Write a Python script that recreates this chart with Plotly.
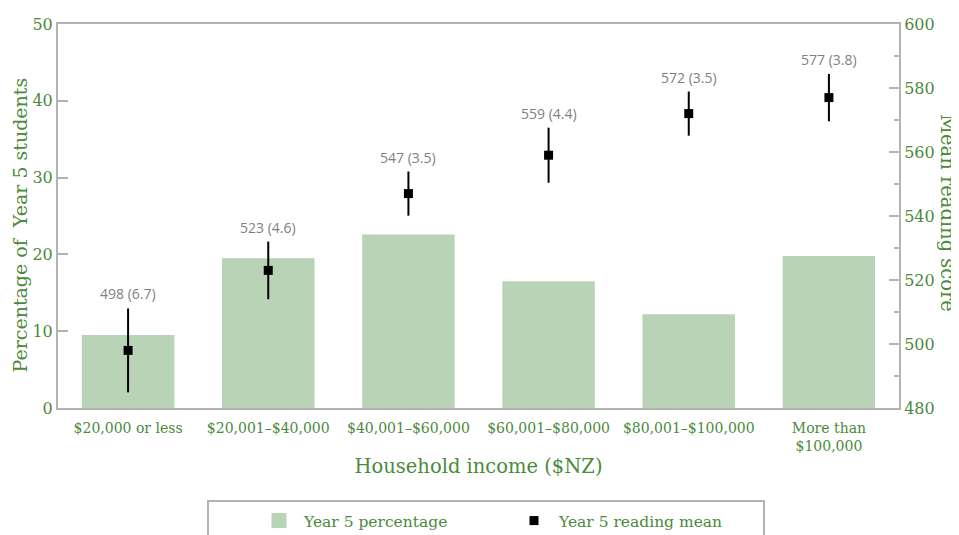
import plotly.graph_objects as go

# data
income_bands = ["$20,000 or less", "$20,001–$40,000", "$40,001–$60,000",
                "$60,001–$80,000", "$80,001–$100,000", "More than<br>$100,000"]
pct_students = [9.5, 19.5, 22.6, 16.5, 12.2, 19.8]
mean_score = [498, 523, 547, 559, 572, 577]
std_error = [6.7, 4.6, 3.5, 4.4, 3.5, 3.8]

ci = [round(1.96 * se, 1) for se in std_error]

GREEN = "#4b8a3c"
BAR = "#b9d3b6"
GREY = "#b3b3b3"
SERIF = "DejaVu Serif"

# the page body adds an 8px offset; plot area on screen is x 58..899, y 24..408
PW, PH = 841, 384


def px(vx):
    return (vx - 58) / PW


def py(vy):
    return (408 - vy) / PH


fig = go.Figure()

fig.add_trace(go.Bar(
    x=income_bands, y=pct_students, name="Year 5 percentage", showlegend=False,
    marker=dict(color=BAR, line=dict(width=0)), width=0.66,
))

# legend entry for the bars (bigger square than plotly's bar swatch)
fig.add_trace(go.Scatter(
    x=[None], y=[None], name="Year 5 percentage", mode="markers",
    marker=dict(symbol="square", color=BAR, size=15),
))

fig.add_trace(go.Scatter(
    x=income_bands, y=mean_score, name="Year 5 reading mean", yaxis="y2",
    mode="markers",
    marker=dict(symbol="square", color="black", size=9),
    error_y=dict(type="data", array=ci, color="black", thickness=2, width=0),
))

# labels above the error bars
for band, m, se, c in zip(income_bands, mean_score, std_error, ci):
    fig.add_annotation(
        x=band, y=m + c, yref="y2", text=f"{m} ({se})", showarrow=False,
        yanchor="bottom", yshift=3,
        font=dict(family="Open Sans", size=14, color="#7f7f7f"),
    )

# axis titles
fig.add_annotation(
    x=px(20), y=py(225.5), xref="paper", yref="paper",
    xanchor="center", yanchor="middle",
    text="Percentage of  Year 5 students", textangle=-90, showarrow=False,
    font=dict(family=SERIF, size=19, color=GREEN),
)
fig.add_annotation(
    x=px(948), y=py(213), xref="paper", yref="paper",
    xanchor="center", yanchor="middle",
    text="Mean reading score", textangle=90, showarrow=False,
    font=dict(family=SERIF, size=19.5, color=GREEN),
)

# legend frame
fig.add_shape(type="rect", xref="paper", yref="paper",
              x0=px(208), x1=px(764), y0=py(570), y1=py(501),
              line=dict(color=GREY, width=2), fillcolor="rgba(0,0,0,0)")

fig.update_layout(
    width=959, height=535,
    margin=dict(l=50, r=68, t=16, b=135, autoexpand=False),
    plot_bgcolor="white", paper_bgcolor="white",
    font=dict(family=SERIF, color=GREEN),
    showlegend=True,
    legend=dict(
        orientation="h", x=px(254), xanchor="left",
        y=py(504), yanchor="top",
        itemwidth=40, entrywidth=200, entrywidthmode="pixels",
        font=dict(family=SERIF, size=15.5, color=GREEN),
        bgcolor="rgba(0,0,0,0)", borderwidth=0,
    ),
    xaxis=dict(
        title=dict(text="Household income ($NZ)", font=dict(size=19.5, color=GREEN), standoff=6),
        tickfont=dict(size=14, color=GREEN), ticklabelstandoff=6,
        showline=True, linecolor=GREY, linewidth=2, mirror=True,
        ticks="", showgrid=False, automargin=False,
    ),
    yaxis=dict(
        range=[0, 50], dtick=10,
        tickfont=dict(size=16, color=GREEN),
        showline=True, linecolor=GREY, linewidth=2,
        ticks="inside", ticklen=10, tickwidth=2, tickcolor=GREY,
        showgrid=False, zeroline=False, automargin=False,
    ),
    yaxis2=dict(
        overlaying="y", side="right",
        range=[480, 600], dtick=20,
        tickfont=dict(size=16, color=GREEN),
        showline=True, linecolor=GREY, linewidth=2,
        ticks="inside", ticklen=10, tickwidth=2, tickcolor=GREY,
        minor=dict(dtick=10, ticks="inside", ticklen=5, tickwidth=2, tickcolor=GREY),
        showgrid=False, zeroline=False, automargin=False,
    ),
)

fig.write_html("out.html")
